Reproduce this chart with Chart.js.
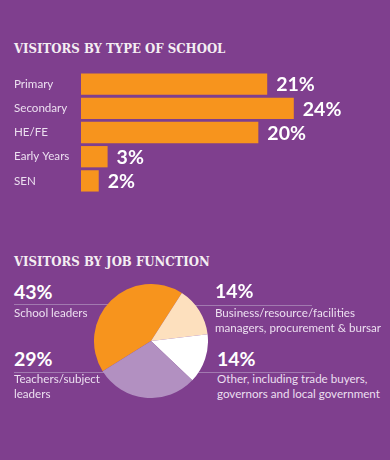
<!DOCTYPE html>
<html>
<head>
<meta charset="utf-8">
<script src="https://cdn.jsdelivr.net/npm/chart.js@4.4.0/dist/chart.umd.min.js"></script>
<style>
  html, body { margin:0; padding:0; }
  body { width:390px; height:460px; background:#7f3f8e; position:relative; overflow:hidden;
         font-family: Lato, "Open Sans", sans-serif; color:#ecdff0; }
  .t { position:absolute; white-space:nowrap; line-height:1; }
  .title { font-family:"DejaVu Serif", serif; font-weight:bold; font-size:13.5px; color:#f4eef2; left:14px;
           transform:scaleX(0.87); transform-origin:0 0; }
  .pct { font-weight:bold; font-size:19.5px; color:#fff; }
  .txt { font-size:11.6px; }
  .rule { position:absolute; height:1px; background:#a27ab0; }
  #bars { position:absolute; left:0; top:60px; }
  #pie { position:absolute; left:94px; top:284px; }
</style>
</head>
<body>
<div class="t title" style="top:41.6px">VISITORS BY TYPE OF SCHOOL</div>
<canvas id="bars" width="390" height="145"></canvas>

<div class="t title" style="top:254.6px">VISITORS BY JOB FUNCTION</div>

<div class="rule" style="left:14px; top:304px; width:114px"></div>
<div class="rule" style="left:190px; top:305px; width:122px"></div>
<div class="rule" style="left:14px; top:372px; width:113px"></div>
<div class="rule" style="left:187px; top:372px; width:128px"></div>

<canvas id="pie" width="114" height="114"></canvas>

<div id="pieText"></div>

<script>
/* ===== DATA ===== */
const SCHOOL_TYPES  = ['Primary', 'Secondary', 'HE/FE', 'Early Years', 'SEN'];
const SCHOOL_SHARES = [21, 24, 20, 3, 2];   // % of visitors

const JOB_SHARES    = [43, 14, 14, 29];     // % of visitors, pie order clockwise
const JOB_LABELS    = [
  ['School leaders'],
  ['Business/resource/facilities', 'managers, procurement & bursar'],
  ['Other, including trade buyers,', 'governors and local government'],
  ['Teachers/subject', 'leaders']
];
const JOB_COLOURS   = ['#f7941d', '#fde0be', '#ffffff', '#b290c1'];

/* ===== HELPERS ===== */
const q = sel => document.querySelector(sel);

// value labels to the right of each bar
const barValues = {
  id: 'barValues',
  afterDatasetsDraw(chart) {
    const {ctx} = chart;
    const meta = chart.getDatasetMeta(0);
    ctx.save();
    ctx.font = 'bold 19.5px Lato';
    ctx.fillStyle = '#ffffff';
    ctx.textBaseline = 'middle';
    meta.data.forEach((bar, i) => {
      ctx.fillText(SCHOOL_SHARES[i] + '%', bar.x + 9, bar.y + 1);
    });
    ctx.restore();
  }
};

/* ===== BAR CHART ===== */
new Chart(q('#bars'), {
  type: 'bar',
  data: {
    labels: SCHOOL_TYPES,
    datasets: [{
      data: SCHOOL_SHARES,
      backgroundColor: '#f7941d',
      barPercentage: 0.88,
      categoryPercentage: 1
    }]
  },
  options: {
    indexAxis: 'y',
    responsive: false,
    animation: false,
    layout: { padding: { left: 14, right: 43, top: 12, bottom: 12 } },
    plugins: { legend: { display: false }, tooltip: { enabled: false } },
    scales: {
      x: { display: false, min: 0, max: 30 },
      y: {
        grid: { display: false },
        border: { display: false },
        afterFit: s => { s.width = 67; },
        ticks: { crossAlign: 'far', color: '#ecdff0', font: { family: 'Lato', size: 11.6 } }
      }
    }
  },
  plugins: [barValues]
});

/* ===== PIE ===== */
new Chart(q('#pie'), {
  type: 'pie',
  data: {
    labels: JOB_LABELS.map(l => l.join(' ')),
    datasets: [{ data: JOB_SHARES, backgroundColor: JOB_COLOURS, borderWidth: 0 }]
  },
  options: {
    responsive: false,
    animation: false,
    rotation: -122,
    layout: { padding: 0 },
    plugins: { legend: { display: false }, tooltip: { enabled: false } }
  }
});

// pie annotations: [left, top of %, top of first text line]
const ANNOT_POS = [[14, 282, 306.7], [215, 281, 306.7], [217, 349, 372.7], [14, 349, 372.7]];
const pieText = q('#pieText');
JOB_SHARES.forEach((v, i) => {
  const [x, yp, yt] = ANNOT_POS[i];
  let html = `<div class="t pct" style="left:${x}px;top:${yp}px">${v}%</div>`;
  JOB_LABELS[i].forEach((line, j) => {
    html += `<div class="t txt" style="left:${x}px;top:${yt + j * 15.5}px">${line.replace('&', '&amp;')}</div>`;
  });
  pieText.insertAdjacentHTML('beforeend', html);
});
</script>
</body>
</html>
